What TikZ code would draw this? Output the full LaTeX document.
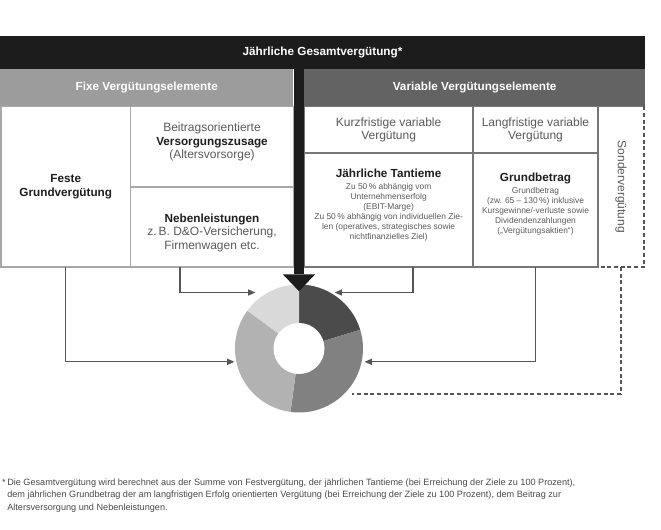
\documentclass[tikz,border=0pt]{standalone}
\usepackage{fontspec}
\setmainfont{Liberation Sans}
\usetikzlibrary{arrows.meta}

\definecolor{barblack}{HTML}{1C1C1C}
\definecolor{fixgrey}{HTML}{9C9C9C}
\definecolor{vargrey}{HTML}{636363}
\definecolor{fixline}{HTML}{A8A8A8}
\definecolor{varline}{HTML}{767676}
\definecolor{arrowgrey}{HTML}{555555}
\definecolor{txtgrey}{HTML}{5A5A5A}
\definecolor{boldblack}{HTML}{1E1E1E}
\definecolor{notegrey}{HTML}{4A4A4A}
\definecolor{piedark}{HTML}{4B4B4B}
\definecolor{piemid}{HTML}{818181}
\definecolor{pielight}{HTML}{B2B2B2}
\definecolor{piepale}{HTML}{D9D9D9}

\newcommand{\keyword}[1]{{\color{boldblack}\bfseries\fontsize{8.8}{10}\selectfont #1}}

\begin{document}
\begin{tikzpicture}[x=0.75pt,y=0.75pt,
    bar/.style={inner sep=0pt, outer sep=0pt, text=white, font=\bfseries\fontsize{8.8}{10}\selectfont},
    fixbox/.style={draw=fixline, line width=1.2pt, inner sep=0pt, outer sep=0pt},
    varbox/.style={draw=varline, line width=1.2pt, inner sep=0pt, outer sep=0pt},
    boxtext/.style={align=center, text=txtgrey, inner sep=0pt, font=\fontsize{9}{10}\selectfont},
    smalltext/.style={align=center, text=txtgrey, inner sep=0pt, font=\fontsize{6.3}{7.5}\selectfont},
    conn/.style={draw=arrowgrey, line width=1pt, -{Triangle[length=5.5pt,width=4.5pt]}},
    dashline/.style={draw=arrowgrey, line width=1.5pt, dash pattern=on 3pt off 2pt}]
  \fill[white] (0,0) rectangle (661,-530);
  \useasboundingbox (0,0) rectangle (661,-530);

  % bars
  \node[bar, fill=barblack, minimum width=483.75pt, minimum height=25.2pt] (top) at (322.5,-52.5) {Jährliche Gesamtvergütung*};
  \node[bar, fill=fixgrey, minimum width=220.1pt, minimum height=27.9pt] (fixbar) at (146.75,-87.9) {Fixe Vergütungselemente};
  \node[bar, fill=vargrey, minimum width=255.5pt, minimum height=27.9pt] (varbar) at (474.65,-87.9) {Variable Vergütungselemente};

  % fixed elements
  \node[fixbox, minimum width=97.1pt, minimum height=120.4pt] (feste) at (65.75,-186.75) {};
  \node[fixbox, minimum width=122.25pt, minimum height=60.4pt] (beitrag) at (212,-146.75) {};
  \node[fixbox, minimum width=122.25pt, minimum height=60pt] (neben) at (212,-227) {};
  \node[boxtext] (festetext) at (feste.center) {\keyword{Feste}\\\keyword{Grundvergütung}};
  \node[boxtext] (beitragtext) at ([yshift=3.6pt]beitrag.center) {Beitragsorientierte\\\keyword{Versorgungszusage}\\(Altersvorsorge)};
  \node[boxtext] (nebentext) at ([yshift=-4.3pt]neben.center) {\keyword{Nebenleistungen}\\z.\,B. D\&O-Versicherung,\\Firmenwagen etc.};

  % variable elements
  \node[varbox, minimum width=126.5pt, minimum height=34.65pt] (kurz) at (388.65,-129.6) {};
  \node[varbox, minimum width=93.75pt, minimum height=34.65pt] (lang) at (535.5,-129.6) {};
  \node[varbox, minimum width=126.5pt, minimum height=85.7pt] (tant) at (388.65,-209.85) {};
  \node[varbox, minimum width=93.75pt, minimum height=85.7pt] (grund) at (535.5,-209.85) {};
  \node[inner sep=0pt, outer sep=0pt, minimum width=34.5pt, minimum height=120.4pt] (sonder) at (621,-186.75) {};
  \draw[varline, line width=1.2pt] (sonder.south west) -- (sonder.north west) -- (sonder.north east);
  \draw[dashline] (sonder.north east) -- (sonder.south east) -- (sonder.south west);
  \node[boxtext] (kurztext) at (kurz.center) {Kurzfristige variable\\Vergütung};
  \node[boxtext] (langtext) at (lang.center) {Langfristige variable\\Vergütung};
  \node[smalltext] (tanttext) at ([yshift=3.6pt]tant.center) {\keyword{Jährliche Tantieme}\\[1.3pt]
    Zu 50\,\% abhängig vom\\Unternehmenserfolg\\(EBIT-Marge)\\Zu 50\,\% abhängig von individuellen Zie-\\len (operatives, strategisches sowie\\nichtfinanzielles Ziel)};
  \node[smalltext] (grundtext) at ([yshift=4.5pt]grund.center) {\keyword{Grundbetrag}\\[1.3pt]
    Grundbetrag\\(zw. 65 -- 130\,\%) inklusive\\Kursgewinne/-verluste sowie\\Dividendenzahlungen\\(„Vergütungsaktien“)};
  \node[boxtext, rotate=-90] (sondertext) at (sonder.center) {Sondervergütung};

  % pie
  \node[circle, inner sep=0pt, outer sep=0pt, minimum size=96pt] (pie) at (299,-348.5) {};
  \foreach \from/\to/\col in {17/90/piedark, -97.6/17/piemid, 143.8/262.4/pielight, 90/143.8/piepale}
    \fill[\col] (pie.center) -- ++(\from:64) arc[start angle=\from, end angle=\to, radius=64] -- cycle;
  \fill[white] (pie.center) circle[radius=25.5];

  % connectors
  \draw[conn, shorten >=1.4pt] (feste.south) |- (pie.192);
  \draw[conn, shorten >=9.4pt] ([xshift=-24pt]neben.south) |- (pie.119);
  \draw[conn, shorten >=3.4pt] ([xshift=18.3pt]tant.south) |- (pie.61);
  \draw[conn, shorten >=2.2pt] (grund.south) |- (pie.348);
  \draw[dashline, shorten >=6pt] (sonder.south) |- (pie.315);
  \draw[barblack, line width=8pt, -{Triangle[length=12.5pt,width=24pt,line width=0pt]}] (top.south -| pie.north) -- ([yshift=-5pt]pie.north);

  % footnote
  \node[anchor=north west, align=left, inner sep=0pt, text=notegrey, font=\fontsize{6.85}{9.3}\selectfont] (note) at (7,-478.5)
    {\llap{*\,}Die Gesamtvergütung wird berechnet aus der Summe von Festvergütung, der jährlichen Tantieme (bei Erreichung der Ziele zu 100 Prozent),\\
     dem jährlichen Grundbetrag der am langfristigen Erfolg orientierten Vergütung (bei Erreichung der Ziele zu 100 Prozent), dem Beitrag zur\\
     Altersversorgung und Nebenleistungen.};
\end{tikzpicture}
\end{document}
